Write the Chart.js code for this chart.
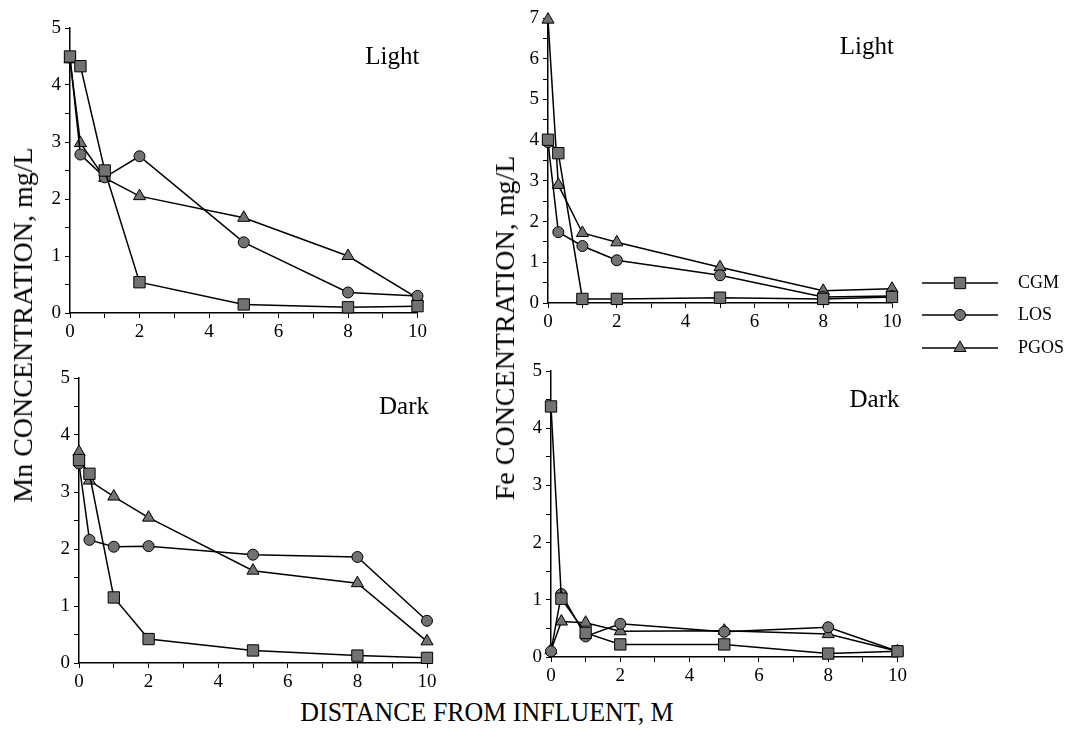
<!DOCTYPE html>
<html>
<head>
<meta charset="utf-8">
<script src="https://cdn.jsdelivr.net/npm/chart.js@4"></script>
<style>
  body { margin: 0; background: #fff; }
  #wrap { position: relative; width: 1078px; height: 745px; font-family: 'Liberation Serif', serif; color: #000; }
  canvas { position: absolute; }
  .ytitle { position: absolute; font-size: 28px; white-space: nowrap; transform: translate(-50%, -50%) rotate(-90deg); }
  #xtitle { position: absolute; left: 487px; top: 712px; font-size: 27px; white-space: nowrap; transform: translate(-50%, -50%) scaleX(0.96); }
</style>
</head>
<body>
<div id="wrap">
  <canvas id="mnLight" width="400" height="335" style="left:30px;top:10px"></canvas>
  <canvas id="feLight" width="598" height="370" style="left:480px;top:0px"></canvas>
  <canvas id="mnDark" width="410" height="335" style="left:30px;top:360px"></canvas>
  <canvas id="feDark" width="410" height="345" style="left:500px;top:350px"></canvas>
  <div class="ytitle" style="left:23px;top:325px">Mn CONCENTRATION, mg/L</div>
  <div class="ytitle" style="left:505px;top:328px">Fe CONCENTRATION, mg/L</div>
  <div id="xtitle">DISTANCE FROM INFLUENT, M</div>
</div>
<script>
// distance from influent (m) where samples were taken
const distance = [0, 0.3, 1, 2, 5, 8, 10];
const seriesNames = ['CGM', 'LOS', 'PGOS'];
const pointShapes = ['rect', 'circle', 'triangle'];
const pointSizes = [8, 5.5, 7];

const mnLightCGM = [4.5, 4.33, 2.5, 0.54, 0.15, 0.1, 0.12];
const mnLightLOS = [4.48, 2.78, 2.38, 2.75, 1.24, 0.36, 0.3];
const mnLightPGOS = [4.45, 2.98, 2.37, 2.05, 1.67, 1.0, 0.26];

const feLightCGM = [4.01, 3.68, 0.1, 0.1, 0.13, 0.1, 0.15];
const feLightLOS = [3.95, 1.74, 1.4, 1.05, 0.68, 0.15, 0.17];
const feLightPGOS = [6.96, 2.9, 1.72, 1.49, 0.88, 0.3, 0.35];

const mnDarkCGM = [3.56, 3.32, 1.15, 0.42, 0.22, 0.13, 0.09];
const mnDarkLOS = [3.5, 2.16, 2.04, 2.05, 1.9, 1.86, 0.74];
const mnDarkPGOS = [3.7, 3.2, 2.92, 2.55, 1.62, 1.4, 0.38];

const feDarkCGM = [4.38, 1.02, 0.42, 0.22, 0.22, 0.06, 0.1];
const feDarkLOS = [0.1, 1.1, 0.36, 0.58, 0.44, 0.52, 0.1];
const feDarkPGOS = [0.12, 0.62, 0.6, 0.45, 0.46, 0.4, 0.1];

const markerFill = '#727272';
const tickFont = { family: 'Liberation Serif', size: 19 };

// "Light" / "Dark" in the top right of each plot
const panelLabel = {
  id: 'panelLabel',
  afterDraw(chart, args, opts) {
    if (!opts.text) return;
    const { ctx, chartArea } = chart;
    ctx.save();
    ctx.font = '25px "Liberation Serif"';
    ctx.fillStyle = '#000';
    ctx.textAlign = 'right';
    ctx.fillText(opts.text, chartArea.right + 2, chartArea.top + 36);
    ctx.restore();
  }
};

// shared legend drawn to the right of the Fe/Light plot
const sideLegend = {
  id: 'sideLegend',
  afterDraw(chart, args, opts) {
    if (!opts.display) return;
    const ctx = chart.ctx;
    ctx.save();
    chart.data.datasets.forEach((ds, i) => {
      const y = opts.rows[i];
      ctx.strokeStyle = '#000';
      ctx.lineWidth = 1.5;
      ctx.beginPath();
      ctx.moveTo(opts.x0, y);
      ctx.lineTo(opts.x1, y);
      ctx.stroke();
      ctx.fillStyle = markerFill;
      ctx.lineWidth = 1;
      Chart.helpers.drawPoint(ctx, { pointStyle: ds.pointStyle, radius: ds.pointRadius, rotation: 0, borderWidth: 1 },
        (opts.x0 + opts.x1) / 2, y);
      ctx.fillStyle = '#000';
      ctx.font = '18px "Liberation Serif"';
      ctx.textBaseline = 'middle';
      ctx.fillText(ds.label, opts.textX, y);
    });
    ctx.restore();
  }
};

function makePanel(id, series, yMax, label, g, legend) {
  return new Chart(document.getElementById(id), {
    type: 'scatter',
    data: {
      datasets: seriesNames.map((name, i) => ({
        label: name,
        data: distance.map((d, j) => ({ x: d, y: series[i][j] })),
        showLine: true,
        borderColor: '#000',
        borderWidth: 1.5,
        pointStyle: pointShapes[i],
        pointRadius: pointSizes[i],
        pointBackgroundColor: markerFill,
        pointBorderColor: '#000',
        pointBorderWidth: 1,
        clip: false
      }))
    },
    options: {
      responsive: false,
      animation: false,
      layout: { padding: { top: g.padTop, right: g.padRight, left: 0, bottom: 0 } },
      scales: {
        x: {
          type: 'linear', min: 0, max: 10,
          afterFit: s => { s.height = g.xHeight; },
          ticks: { stepSize: 1, autoSkip: false, maxRotation: 0, color: '#000', font: tickFont, padding: 3,
                   callback: v => v % 2 === 0 ? v : '' },
          grid: { drawOnChartArea: false, color: '#000', tickLength: 5 },
          border: { color: '#000', width: 1.5 }
        },
        y: {
          min: 0, max: yMax,
          afterFit: s => { s.width = g.yWidth; },
          ticks: { stepSize: 0.5, autoSkip: false, color: '#000', font: tickFont, padding: 4,
                   callback: v => Number.isInteger(v) ? v : '' },
          grid: { drawOnChartArea: false, color: '#000', tickLength: 5 },
          border: { color: '#000', width: 1.5 }
        }
      },
      plugins: {
        legend: { display: false },
        tooltip: { enabled: false },
        panelLabel: { text: label },
        sideLegend: legend || { display: false }
      }
    },
    plugins: [panelLabel, sideLegend]
  });
}

makePanel('mnLight', [mnLightCGM, mnLightLOS, mnLightPGOS], 5, 'Light',
  { yWidth: 40, xHeight: 32, padTop: 18, padRight: 12 });
makePanel('feLight', [feLightCGM, feLightLOS, feLightPGOS], 7, 'Light',
  { yWidth: 68, xHeight: 67, padTop: 18, padRight: 186 },
  { display: true, x0: 442, x1: 518, textX: 538, rows: [283, 315, 348] });
makePanel('mnDark', [mnDarkCGM, mnDarkLOS, mnDarkPGOS], 5, 'Dark',
  { yWidth: 49, xHeight: 32, padTop: 18, padRight: 13 });
makePanel('feDark', [feDarkCGM, feDarkLOS, feDarkPGOS], 5, 'Dark',
  { yWidth: 51, xHeight: 38, padTop: 21, padRight: 12 });
</script>
</body>
</html>
